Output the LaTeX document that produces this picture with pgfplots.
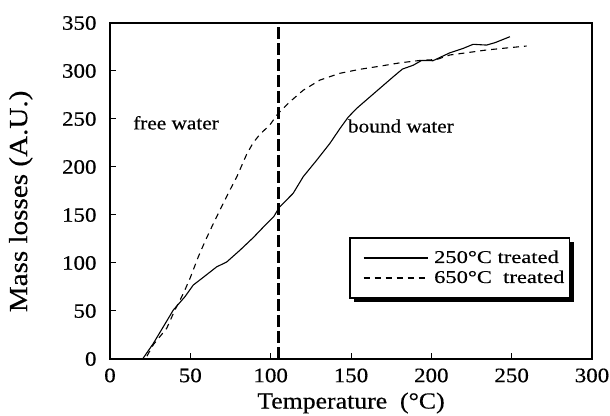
\documentclass[border=0pt]{standalone}
\usepackage{fontspec}
\setmainfont[FakeStretch=1.12,FakeBold=0.4]{Liberation Serif}
\newfontfamily\legfont[FakeStretch=1.25,FakeBold=0.4]{Liberation Serif}
\usepackage{pgfplots}
\pgfplotsset{compat=1.18}
\begin{document}
\begin{tikzpicture}
\begin{axis}[
  name=ax,
  scale only axis,
  width=482bp, height=336bp,
  xmin=0, xmax=300, ymin=0, ymax=350,
  xtick={0,50,...,300}, ytick={0,50,...,350},
  tick align=inside,
  xtick pos=lower, ytick pos=left,
  major tick length=6bp,
  tick style={black, line width=1bp},
  axis line style={line width=1.2bp},
  /pgf/number format/assume math mode=true,
  tick label style={font=\fontsize{20.5bp}{24bp}\selectfont},
  yticklabel style={xshift=-10bp},
  xticklabel style={yshift=-6bp},
  xlabel={Temperature~~(°C)},
  ylabel={Mass losses (A.U.)},
  xlabel style={font=\fontsize{23bp}{26bp}\selectfont, at={(axis description cs:0.5,-0.131)}, anchor=center},
  ylabel style={font=\fontsize{26bp}{28bp}\selectfont, at={(axis description cs:-0.185,0.469)}, anchor=center},
  legend style={at={(axis cs:157.4,94.8)}, anchor=west, draw=none, fill=none,
    font=\legfont\fontsize{18bp}{20bp}\selectfont,
    inner sep=0pt, row sep=0pt, column sep=0pt,
    nodes={inner xsep=6bp, inner ysep=3bp, text height=12bp, text depth=2bp},
    cells={anchor=west}},
  legend image code/.code={\draw[#1] (0bp,0bp) -- (64bp,0bp);},
]
\addplot[black, line width=1.1bp] coordinates {
(20.3,0) (27,16.3) (33.2,33.6) (39.4,51) (46.7,65) (51.8,77) (58,85) (66.4,96) (72.6,101)
(81,113.5) (89.2,126.5) (97.5,141) (102,148.5) (105.4,158) (114,172.6) (120.3,190)
(128.6,207) (136.9,224.7) (143.1,240) (148.3,252) (153.5,261) (159.7,270) (168,282) (176.3,294)
(182,302) (188.7,306) (194,311) (201,310.7) (211.6,319) (219.9,323.6) (226,327.8) (234.4,327)
(239.6,329.5) (248.9,335.7)
};
\addlegendentry{250°C treated}
\addplot[black, line width=1.1bp, dash pattern=on 6bp off 5bp] coordinates {
(23,3) (27,15) (35.3,32) (40.4,51) (45.6,68) (49.8,84) (55,106.6) (59,122) (64.3,141) (68.4,155)
(73.6,172.6) (79,190) (85,213) (89,225) (93.3,234) (99.6,244) (104.7,256) (112,268) (120.3,280)
(130.7,290.6) (143.1,297.6) (155.6,301.8) (168,305) (180.5,308.5) (193,311) (203.3,312)
(211.6,316.7) (222,319) (234.4,321.9) (246.9,324) (259.3,326)
};
\addlegendentry{650°C~~treated}
\addplot[black, line width=3bp, dash pattern=on 12bp off 4bp, forget plot] coordinates {(105,0) (105,350)};
\node[anchor=west, font=\fontsize{19bp}{22bp}\selectfont, inner sep=0pt] at (axis cs:14.3,246) {free water};
\node[anchor=west, font=\fontsize{19bp}{22bp}\selectfont, inner sep=0pt] at (axis cs:148,242.7) {bound water};
\fill[black] ([xshift=4bp,yshift=-4bp]axis cs:149.3,126) rectangle ([xshift=4bp,yshift=-4bp]axis cs:286,63.5);
\filldraw[fill=white, draw=black, line width=1.6bp] (axis cs:149.3,126) rectangle (axis cs:286,63.5);
\end{axis}
\pgfresetboundingbox
\path (ax.south west) ++(-110bp,-57bp) rectangle ++(610bp,416bp);
\end{tikzpicture}
\end{document}
